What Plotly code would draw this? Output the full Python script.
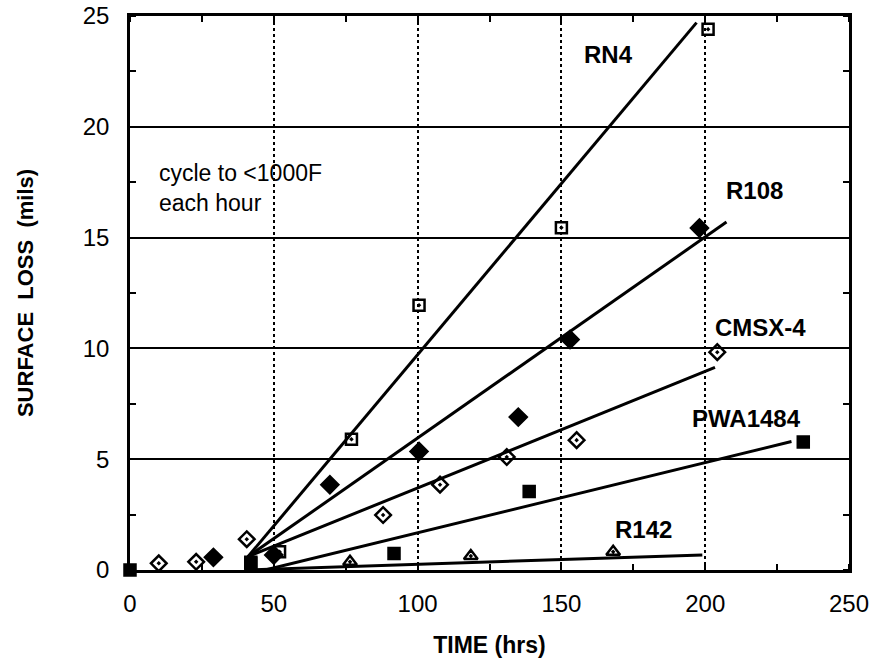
import plotly.graph_objects as go

# ---- data ----
rn4_x = [42, 52, 77, 100.5, 150, 201]
rn4_y = [0.35, 0.82, 5.9, 11.95, 15.45, 24.4]
rn4_fit_x = [41, 197]
rn4_fit_y = [0.6, 24.7]

r108_x = [29, 50, 69.5, 100.5, 135, 153, 198]
r108_y = [0.57, 0.68, 3.85, 5.35, 6.9, 10.4, 15.43]
r108_fit_x = [41, 207.4]
r108_fit_y = [0.6, 15.7]

cmsx_x = [10, 23, 40.6, 88, 107.8, 131, 155.3, 204.2]
cmsx_y = [0.3, 0.37, 1.39, 2.48, 3.85, 5.1, 5.86, 9.83]
cmsx_fit_x = [41, 203.4]
cmsx_fit_y = [0.6, 9.14]

pwa_x = [0, 42, 91.8, 138.8, 234.1]
pwa_y = [0, 0.3, 0.75, 3.54, 5.78]
pwa_fit_x = [47, 230]
pwa_fit_y = [0.0, 5.8]

r142_x = [76.5, 118.5, 168]
r142_y = [0.37, 0.63, 0.82]
r142_fit_x = [40, 199]
r142_fit_y = [0.0, 0.68]

labels = ["RN4", "R108", "CMSX-4", "PWA1484", "R142"]
label_x = [166.5, 217.3, 219.1, 214.2, 178.4]
label_y = [23.26, 17.12, 10.95, 6.83, 1.82]

note_lines = ["cycle to &lt;1000F", "each hour"]
note_x = 9.4
note_y = [17.9, 16.55]

x_ticks = [0, 50, 100, 150, 200, 250]
y_ticks = [0, 5, 10, 15, 20, 25]

FONT = "Liberation Sans, Arial, Helvetica, sans-serif"

fig = go.Figure()

def add_series(xs, ys, fx, fy, symbol, name, size=11):
    fig.add_trace(go.Scatter(x=fx, y=fy, mode="lines",
                             line=dict(color="black", width=3),
                             showlegend=False, hoverinfo="skip", name=name + " fit"))
    fig.add_trace(go.Scatter(x=xs, y=ys, mode="markers", name=name,
                             marker=dict(symbol=symbol, size=size, color="black",
                                         line=dict(color="black", width=2.5)),
                             cliponaxis=False, showlegend=False))

add_series(rn4_x, rn4_y, rn4_fit_x, rn4_fit_y, "square-open-dot", "RN4")
add_series(r108_x, r108_y, r108_fit_x, r108_fit_y, "diamond", "R108", 13)
add_series(cmsx_x, cmsx_y, cmsx_fit_x, cmsx_fit_y, "diamond-open-dot", "CMSX-4", 12)
add_series(pwa_x, pwa_y, pwa_fit_x, pwa_fit_y, "square", "PWA1484")
add_series(r142_x, r142_y, r142_fit_x, r142_fit_y, "triangle-up-open-dot", "R142", 12)

for t, x, y in zip(labels, label_x, label_y):
    fig.add_annotation(x=x, y=y, text="<b>" + t + "</b>", showarrow=False,
                       font=dict(family=FONT, size=24, color="black"))

for t, y in zip(note_lines, note_y):
    fig.add_annotation(x=note_x, y=y, xanchor="left", yanchor="middle", align="left",
                       text=t, showarrow=False,
                       font=dict(family=FONT, size=23, color="black"))

fig.update_layout(
    width=873, height=670,
    margin=dict(l=130, r=24, t=16, b=100),
    plot_bgcolor="white", paper_bgcolor="white",
    font=dict(family=FONT, size=23, color="black"),
    showlegend=False,
)

fig.update_xaxes(
    range=[0, 250], tickvals=x_ticks, ticktext=[str(v) for v in x_ticks],
    showgrid=True, gridcolor="black", gridwidth=1.5, griddash="dot",
    showline=True, linecolor="black", linewidth=2.5, mirror="ticks",
    ticks="", ticklabelstandoff=10, zeroline=False, automargin=False,
    ticklabeloverflow="allow",
    minor=dict(ticks="inside", ticklen=6, tickwidth=2, tickcolor="black", dtick=25, showgrid=False),
    title=dict(text="<b>TIME (hrs)</b>", font=dict(family=FONT, size=23), standoff=22),
    tickfont=dict(family=FONT, size=24),
)
fig.update_yaxes(
    range=[0, 25], tickvals=y_ticks, ticktext=[str(v) for v in y_ticks],
    showgrid=True, gridcolor="black", gridwidth=2.2,
    showline=True, linecolor="black", linewidth=2.5, mirror="ticks",
    ticks="", ticklabelstandoff=13, zeroline=False, automargin=False,
    ticklabeloverflow="allow",
    minor=dict(ticks="inside", ticklen=6, tickwidth=2, tickcolor="black", dtick=2.5, showgrid=False),
    title=dict(text="<b>SURFACE\u00a0\u00a0LOSS\u00a0\u00a0(mils)</b>", font=dict(family=FONT, size=22), standoff=44),
    tickfont=dict(family=FONT, size=24),
)

# remove the browser's default 8px body margin so the figure starts at the window corner
fig.write_html("out.html", config={"displayModeBar": False},
               post_script="document.body.style.margin='0px';")
